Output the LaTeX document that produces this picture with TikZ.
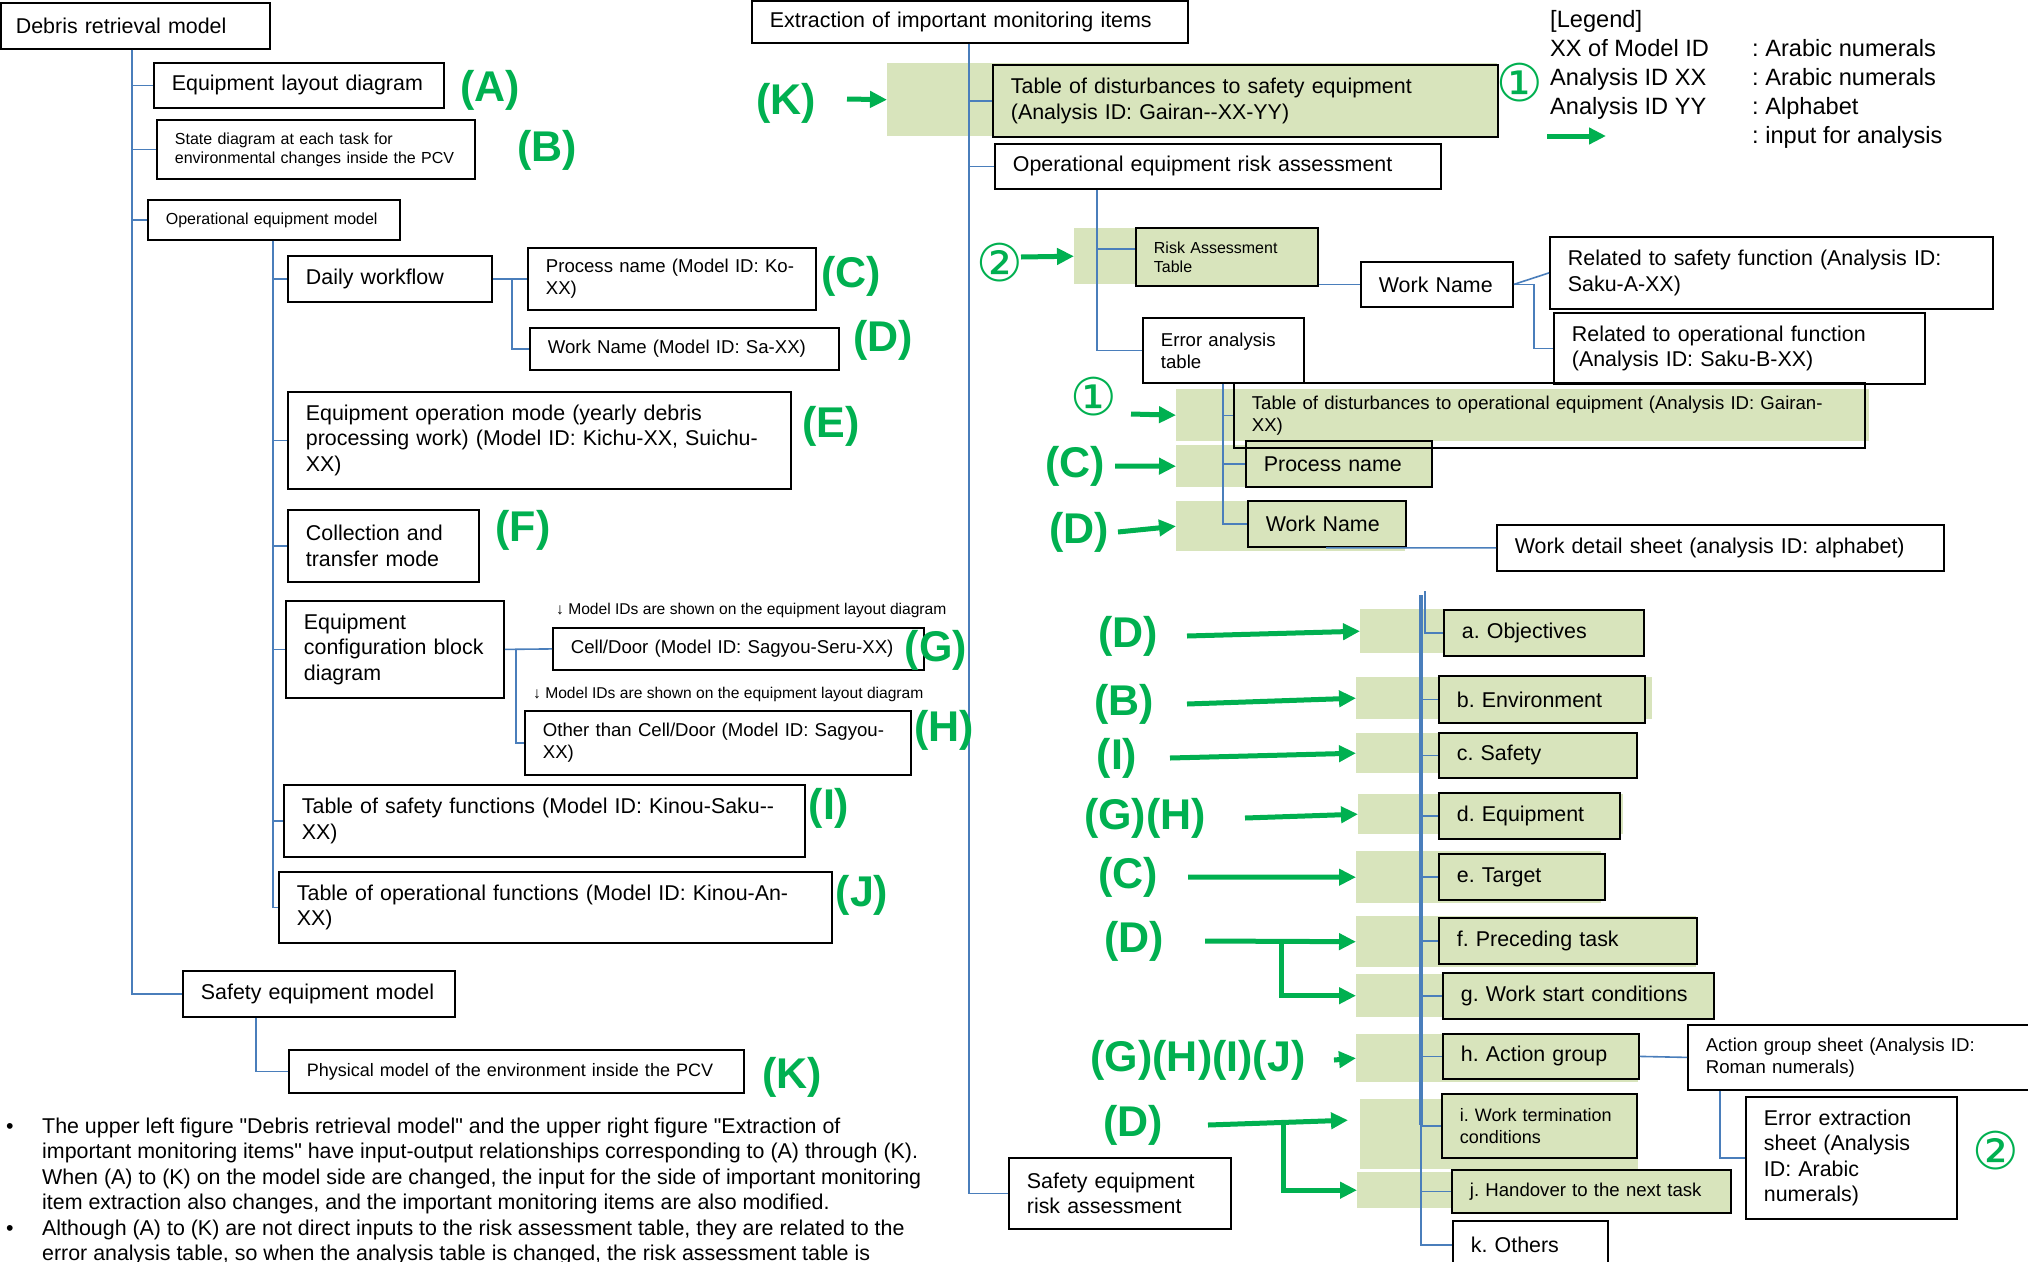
\documentclass[tikz,border=0pt]{standalone}
\usepackage{fontspec}
\setmainfont{Liberation Sans}[Ligatures=TeXOff]
\newfontfamily\circfont{DejaVu Sans}
\usetikzlibrary{arrows.meta}

\definecolor{linkblue}{RGB}{74,126,187}
\definecolor{markgreen}{RGB}{0,176,80}
\definecolor{palegrn}{RGB}{216,228,188}

\newcommand\fbig{\fontsize{21.4pt}{25.5pt}\selectfont}
\newcommand\fmid{\fontsize{18.6pt}{22pt}\selectfont}
\newcommand\fmidn{\fontsize{18pt}{22pt}\selectfont}
\newcommand\fsml{\fontsize{16pt}{19pt}\selectfont}
\newcommand\fnote{\fontsize{15.6pt}{18pt}\selectfont}
\newcommand\flgd{\fontsize{23.6pt}{29pt}\selectfont}
\newcommand\ftag{\fontsize{43pt}{48pt}\selectfont\bfseries}
\newcommand\fcirc{\circfont\fontsize{52pt}{56pt}\selectfont}

\begin{document}
\frenchspacing
\begin{tikzpicture}[x=1pt,y=-1pt]
\tikzstyle{bx}=[draw, line width=1.8pt, anchor=north west, align=left,
  inner xsep=18pt, inner ysep=0pt, font=\fbig]
\tikzstyle{gbx}=[bx, fill=palegrn]
\tikzstyle{bg}=[fill=palegrn, anchor=north west, inner sep=0pt]
\tikzstyle{cn}=[linkblue, line width=1.6pt]
\tikzstyle{ga}=[-{Triangle[length=17pt,width=16pt]}, markgreen, line width=5pt]
\tikzstyle{tg}=[text=markgreen, font=\ftag, inner sep=0pt]
\tikzstyle{cc}=[text=markgreen, font=\fcirc, inner sep=0pt]

\useasboundingbox (0,0) rectangle (2028,1261);
\fill[white] (0,0) rectangle (2028,1261);

% green input bands
\node[bg, minimum width=610pt, minimum height=73pt] (bgK) at (887,63) {};
\node[bg, minimum width=237pt, minimum height=56pt] (bgR) at (1074,228) {};
\node[bg, minimum width=693pt, minimum height=52pt] (bgT) at (1176,389) {};
\node[bg, minimum width=255pt, minimum height=42pt] (bgP) at (1176,445) {};
\node[bg, minimum width=229pt, minimum height=50pt] (bgW) at (1176,501) {};
\node[bg, minimum width=283pt, minimum height=44pt] (bga) at (1360,609) {};
\node[bg, minimum width=296pt, minimum height=42pt] (bgb) at (1356,677) {};
\node[bg, minimum width=280pt, minimum height=40pt] (bgc) at (1356,733) {};
\node[bg, minimum width=265pt, minimum height=40pt] (bgd) at (1358,794) {};
\node[bg, minimum width=245pt, minimum height=52pt] (bge) at (1356,851) {};
\node[bg, minimum width=340pt, minimum height=51pt] (bgf) at (1356,916) {};
\node[bg, minimum width=355pt, minimum height=43pt] (bgg) at (1356,974) {};
\node[bg, minimum width=282pt, minimum height=48pt] (bgh) at (1356,1034) {};
\node[bg, minimum width=278pt, minimum height=70pt] (bgi) at (1360,1099) {};
\node[bg, minimum width=373pt, minimum height=36pt] (bgj) at (1357,1172) {};

% debris retrieval model
\node[bx, inner xsep=15pt, text width=239pt, minimum height=46pt] (drm) at (0,2) {Debris retrieval model};
\node[bx, text width=254pt, minimum height=45pt] (eld) at (153,62) {Equipment layout diagram};
\node[bx, font=\fsml, text width=282pt, minimum height=59pt] (sdg) at (156,119)
  {State diagram at each task for\\environmental changes inside the PCV};
\node[bx, font=\fsml, text width=216pt, minimum height=40pt] (oem) at (147,199) {Operational equipment model};
\node[bx, text width=168pt, minimum height=46pt] (dwf) at (287,255) {Daily workflow};
\node[bx, font=\fmid, text width=252pt, minimum height=62pt] (pnm) at (527,247) {Process name (Model ID: Ko-\\XX)};
\node[bx, font=\fmid, text width=273pt, minimum height=42pt] (wnm) at (529,327) {Work Name (Model ID: Sa-XX)};
\node[bx, text width=467pt, minimum height=97pt] (eom) at (287,391)
  {Equipment operation mode (yearly debris\\processing work) (Model ID: Kichu-XX, Suichu-\\XX)};
\node[bx, text width=155pt, minimum height=72pt] (ctm) at (287,509) {Collection and\\transfer mode};
\node[bx, text width=182pt, minimum height=97pt] (ecb) at (285,600) {Equipment\\configuration block\\diagram};
\node[bx, font=\fmid, text width=335pt, minimum height=42pt] (cdr) at (552,627) {Cell/Door (Model ID: Sagyou-Seru-XX)};
\node[bx, font=\fmid, text width=350pt, minimum height=64pt] (ocd) at (524,710) {Other than Cell/Door (Model ID: Sagyou-\\XX)};
\node[bx, text width=485pt, minimum height=72pt] (tsf) at (283,784) {Table of safety functions (Model ID: Kinou-Saku--\\XX)};
\node[bx, text width=517pt, minimum height=71pt] (tof) at (278,871) {Table of operational functions (Model ID: Kinou-An-\\XX)};
\node[bx, text width=236pt, minimum height=46pt] (sem) at (182,970) {Safety equipment model};
\node[bx, font=\fmidn, text width=419pt, minimum height=43pt] (pme) at (288,1049) {Physical model of the environment inside the PCV};

\node[anchor=west, inner sep=0pt, font=\fnote] (nt1) at (556,610) {↓ Model IDs are shown on the equipment layout diagram};
\node[anchor=west, inner sep=0pt, font=\fnote] (nt2) at (533,694) {↓ Model IDs are shown on the equipment layout diagram};

% extraction of important monitoring items
\node[bx, text width=400pt, minimum height=42pt] (eim) at (751,0) {Extraction of important monitoring items};
\node[gbx, text width=469pt, minimum height=72pt] (tds) at (992,64)
  {Table of disturbances to safety equipment\\(Analysis ID: Gairan--XX-YY)};
\node[bx, text width=410pt, minimum height=45pt] (ora) at (994,143) {Operational equipment risk assessment};
\node[gbx, font=\fsml, text width=146pt, minimum height=58pt] (rat) at (1135,227) {Risk Assessment\\Table};
\node[bx, text width=116pt, minimum height=45pt] (wnr) at (1360,261) {Work Name};
\node[bx, text width=407pt, minimum height=72pt] (rsf) at (1549,236) {Related to safety function (Analysis ID:\\Saku-A-XX)};
\node[bx, text width=335pt, minimum height=71pt] (rof) at (1553,312) {Related to operational function\\(Analysis ID: Saku-B-XX)};
\node[bx, font=\fmid, text width=125pt, minimum height=65pt] (eat) at (1142,317) {Error analysis\\table};
\node[gbx, text width=150pt, minimum height=46pt] (pnr) at (1245,440) {Process name};
\node[gbx, text width=122pt, minimum height=46pt] (wnr2) at (1247,500) {Work Name};
\node[bx, font=\fmid, text width=595pt, minimum height=65pt] (tdo) at (1233,382)
  {Table of disturbances to operational equipment (Analysis ID: Gairan-\\XX)};
\node[bx, text width=411pt, minimum height=46pt] (wds) at (1496,524) {Work detail sheet (analysis ID: alphabet)};
\node[bx, text width=186pt, minimum height=71pt] (ser) at (1008,1157) {Safety equipment\\risk assessment};

% work detail items
\node[gbx, text width=164pt, minimum height=46pt] (oa) at (1443,609) {a. Objectives};
\node[gbx, text width=170pt, minimum height=47pt] (ob) at (1438,675) {b. Environment};
\node[gbx, text width=162pt, minimum height=45pt] (oc) at (1438,732) {c. Safety};
\node[gbx, text width=145pt, minimum height=46pt] (od) at (1438,792) {d. Equipment};
\node[gbx, text width=130pt, minimum height=46pt] (oe) at (1438,853) {e. Target};
\node[gbx, text width=222pt, minimum height=46pt] (of) at (1438,917) {f. Preceding task};
\node[gbx, text width=235pt, minimum height=46pt] (og) at (1442,972) {g. Work start conditions};
\node[gbx, text width=160pt, minimum height=45pt] (oh) at (1442,1033) {h. Action group};
\node[gbx, font=\fmidn, text width=159pt, minimum height=64pt] (oi) at (1441,1093) {i. Work termination\\conditions};
\node[gbx, font=\fmid, text width=243pt, minimum height=43pt] (oj) at (1451,1169) {j. Handover to the next task};
\node[bx, text width=119pt, minimum height=48pt] (ok) at (1452,1220) {k. Others};
\node[bx, font=\fmid, text width=317pt, minimum height=65pt] (ags) at (1687,1024) {Action group sheet (Analysis ID:\\Roman numerals)};
\node[bx, text width=175pt, minimum height=122pt] (ees) at (1745,1096) {Error extraction\\sheet (Analysis\\ID: Arabic\\numerals)};

% tree lines, left
\coordinate (t1) at ([xshift=132pt]drm.south west);
\foreach \n in {eld,sdg,oem,sem} \draw[cn] (t1) |- (\n.west);
\coordinate (t2) at ([xshift=126pt]oem.south west);
\foreach \n in {dwf,eom,ctm,ecb,tsf,tof} \draw[cn] (t2) |- (\n.west);
\draw[cn] (dwf.east) -- (pnm.west);
\draw[cn] ([xshift=19pt]dwf.east) |- (wnm.west);
\draw[cn] (ecb.east) -- (cdr.west);
\draw[cn] ([xshift=11pt]ecb.east) |- (ocd.west);
\draw[cn] ([xshift=74pt]sem.south west) |- (pme.west);

% tree lines, right
\coordinate (t3) at ([xshift=218pt]eim.south west);
\foreach \n in {tds,ora,ser} \draw[cn] (t3) |- (\n.west);
\coordinate (t4) at ([xshift=103pt]ora.south west);
\draw[cn] (t4) |- ([yshift=8pt]rat.west);
\draw[cn] (t4) |- (eat.west);
\draw[cn] (rat.east |- wnr.west) -- (wnr.west);
\draw[cn] (wnr.east) -- (rsf.west);
\draw[cn] (wnr.east) -- ++(20,0) |- (rof.west);
\coordinate (t5) at ([xshift=81pt]eat.south west);
\foreach \n in {tdo,pnr,wnr2} \draw[cn] (t5) |- (\n.west);
\draw[cn] ([xshift=79pt]wnr2.south west) -- (wds.west);

\coordinate (t6) at (1421,595);
\coordinate (t7) at (1421,1125);
\draw[cn, line width=4pt] (t6) -- (t7);
\draw[cn] ([xshift=4pt,yshift=4pt]t6) |- (oa.west);
\foreach \n in {ob,oc,od,oe,of,og,oh,oi,oj,ok} \draw[cn] (t6) |- (\n.west);
\draw[cn] (oh.east) -- (ags.west);
\draw[cn] ([xshift=33pt]ags.south west) |- (ees.west);

% input marks
\node[tg] (tA) at (490,90) {(A)};
\node[tg] (tB) at (547,150) {(B)};
\node[tg] (tC) at (851,276) {(C)};
\node[tg] (tD) at (883,340) {(D)};
\node[tg] (tE) at (831,426) {(E)};
\node[tg] (tF) at (523,530) {(F)};
\node[tg] (tG) at (936,650) {(G)};
\node[tg] (tH) at (944,730) {(H)};
\node[tg] (tI) at (829,808) {(I)};
\node[tg] (tJ) at (862,895) {(J)};
\node[tg] (tK) at (792,1077) {(K)};

\node[tg] (tK2) at (786,103) {(K)};
\node[tg] (tC2) at (1075,466) {(C)};
\node[tg] (tD2) at (1079,532) {(D)};
\node[tg] (tD3) at (1128,636) {(D)};
\node[tg] (tB2) at (1124,704) {(B)};
\node[tg] (tI2) at (1117,758) {(I)};
\node[tg] (tGH) at (1145,818) {(G)(H)};
\node[tg] (tC3) at (1128,877) {(C)};
\node[tg] (tD4) at (1134,941) {(D)};
\node[tg] (tGJ) at (1198,1060) {(G)(H)(I)(J)};
\node[tg] (tD5) at (1133,1125) {(D)};

\node[cc] (c1a) at (1520,83) {①};
\node[cc] (c2a) at (1000,263) {②};
\node[cc] (c1b) at (1094,397) {①};
\node[cc] (c2b) at (1996,1151) {②};

\draw[ga] ([xshift=61pt,yshift=4pt]tK2.center) -- (bgK.west);
\draw[ga] ([xshift=21pt,yshift=6pt]c2a.center) -- (bgR.west);
\draw[ga] ([xshift=37pt,yshift=-17pt]c1b.center) -- (bgT.west);
\draw[ga] ([xshift=40pt]tC2.center) -- (bgP.west);
\draw[ga] ([xshift=39pt]tD2.center) -- (bgW.west);
\draw[ga] ([xshift=59pt]tD3.center) -- (bga.west);
\draw[ga] ([xshift=63pt]tB2.center) -- (bgb.west);
\draw[ga] ([xshift=53pt]tI2.center) -- (bgc.west);
\draw[ga] ([xshift=100pt]tGH.center) -- (bgd.west);
\draw[ga] ([xshift=60pt]tC3.center) -- (bge.west);
\draw[ga] ([xshift=71pt]tD4.center) -- (bgf.west);
\draw[ga] ([xshift=147pt]tD4.center) |- (bgg.west);
\draw[ga] ([xshift=136pt]tGJ.center) -- (bgh.west);
\draw[ga] ([xshift=75pt]tD5.center) -- ([xshift=-12pt,yshift=14pt]bgi.west);
\draw[ga] ([xshift=150pt]tD5.center) |- (bgj.west);

% legend
\node[anchor=base west, inner sep=0pt, font=\flgd] (lg0) at (1550,27) {[Legend]};
\node[anchor=base west, inner sep=0pt, font=\flgd] (lg1) at (1550,56) {XX of Model ID};
\node[anchor=base west, inner sep=0pt, font=\flgd] (lg2) at (1550,85) {Analysis ID XX};
\node[anchor=base west, inner sep=0pt, font=\flgd] (lg3) at (1550,114) {Analysis ID YY};
\node[anchor=base west, inner sep=0pt, font=\flgd] (lv1) at (1752,56) {: Arabic numerals};
\node[anchor=base west, inner sep=0pt, font=\flgd] (lv2) at (1752,85) {: Arabic numerals};
\node[anchor=base west, inner sep=0pt, font=\flgd] (lv3) at (1752,114) {: Alphabet};
\node[anchor=base west, inner sep=0pt, font=\flgd] (lv4) at (1752,143) {: input for analysis};
\coordinate (lga) at (1547,136);
\coordinate (lgb) at (1606,136);
\draw[ga] (lga) -- (lgb);

% notes under the model
\node[anchor=base west, inner sep=0pt, font=\fbig] (notes) at (6,1133) {%
  \begin{tabular}[t]{@{}p{36pt}@{}l@{}}
  \textbullet & The upper left figure "Debris retrieval model" and the upper right figure "Extraction of\\
   & important monitoring items" have input-output relationships corresponding to (A) through (K).\\
   & When (A) to (K) on the model side are changed, the input for the side of important monitoring\\
   & item extraction also changes, and the important monitoring items are also modified.\\
  \textbullet & Although (A) to (K) are not direct inputs to the risk assessment table, they are related to the\\
   & error analysis table, so when the analysis table is changed, the risk assessment table is
  \end{tabular}};
\end{tikzpicture}
\end{document}
